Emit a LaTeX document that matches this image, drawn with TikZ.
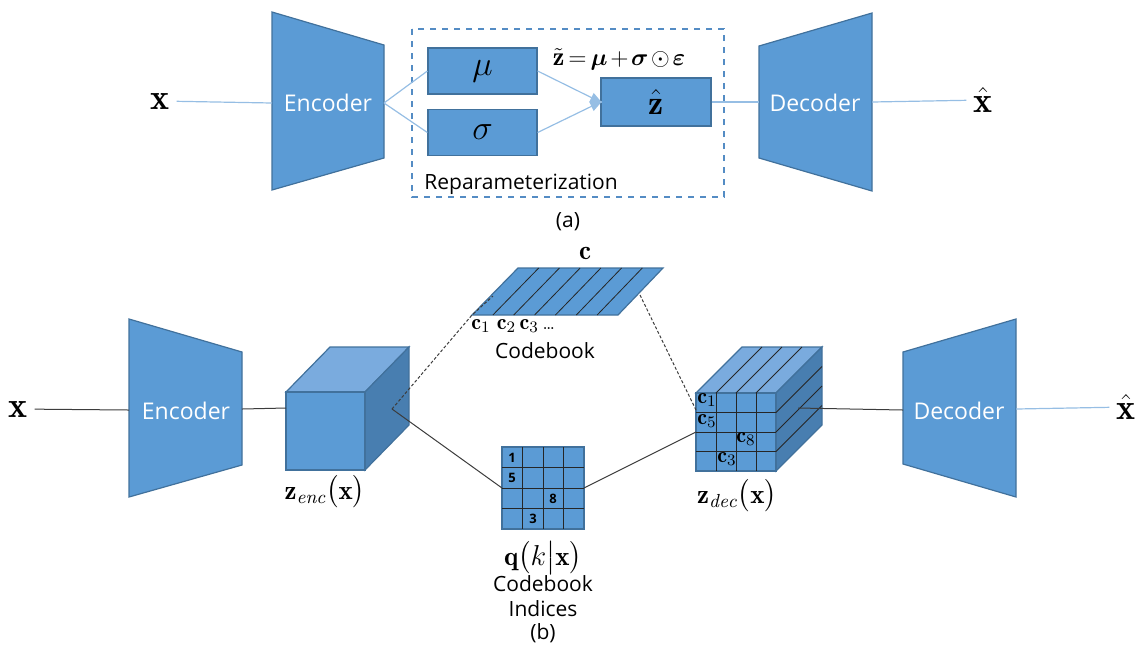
\documentclass[tikz,border=0pt]{standalone}
\usepackage{amsmath}
\usepackage{amssymb}
\usepackage{bm}
\usepackage{fontspec}
\setsansfont{Open Sans}
\usetikzlibrary{arrows.meta,calc}
\definecolor{blu}{RGB}{91,155,213}
\definecolor{bluedge}{RGB}{65,113,156}
\definecolor{bludash}{RGB}{84,140,196}
\definecolor{blutop}{RGB}{122,171,222}
\definecolor{bluside}{RGB}{72,126,176}
\definecolor{bluline}{RGB}{150,190,228}
\definecolor{darkline}{RGB}{60,60,60}

\tikzset{
  blk/.style={fill=blu,draw=bluedge,line width=0.6pt},
  boxn/.style={blk,inner sep=0pt,minimum width=54.5pt,minimum height=23pt},
  whitetxt/.style={font=\sffamily\fontsize{11.5}{13}\selectfont,text=white},
  txt/.style={font=\sffamily\fontsize{10.5}{12.5}\selectfont},
  bigmath/.style={font=\fontsize{18}{20}\selectfont},
  midmath/.style={font=\fontsize{13.5}{15}\selectfont},
  cmath/.style={font=\fontsize{11}{12}\selectfont,inner sep=0pt},
  num/.style={font=\sffamily\bfseries\fontsize{6.5}{7}\selectfont,inner sep=0pt},
  lineA/.style={draw=bluline,line width=0.6pt},
  lineB/.style={draw=darkline,line width=0.5pt},
  dotl/.style={lineB,dash pattern=on 1.5pt off 1pt},
  gridl/.style={draw=black!85,line width=0.4pt},
}

\begin{document}
\begin{tikzpicture}[x=0.5pt,y=-0.5pt]
	\useasboundingbox (0,0) rectangle (1140,650);

	%% (a) variational autoencoder
	\draw [dashed, draw=bludash, line width=0.7pt] (412,29) rectangle (724,197);
	\draw [blk] (272,12) -- (384,45) -- (384,158) -- (272,190) -- cycle;
	\draw [blk] (759,46) -- (872,13) -- (872,191) -- (759,158) -- cycle;
	\node [whitetxt] (enca) at (328,103) {Encoder};
	\node [whitetxt] (deca) at (815,103) {Decoder};
	\coordinate (encaW) at (272,103);
	\coordinate (encaE) at (384,103);
	\coordinate (decaW) at (759,102);
	\coordinate (decaE) at (872,102);

	\node [boxn] (mu) at (482.5,71) {\fontsize{16}{18}\selectfont$\mu$};
	\node [boxn] (sig) at (482.5,132.5) {\fontsize{16}{18}\selectfont$\sigma$};
	\node [boxn,minimum width=55pt,minimum height=24pt] (zh) at (656,102) {\fontsize{17}{19}\selectfont$\hat{\mathbf{z}}$};
	\node [font=\fontsize{13}{15}\selectfont,inner sep=1pt] (eq) at (619,59) {$\medmuskip=2mu\thickmuskip=3mu\tilde{\mathbf{z}}=\bm{\mu}+\bm{\sigma}\odot\bm{\varepsilon}$};
	\node [txt,anchor=west,inner sep=0pt] (rep) at (424,184) {Reparameterization};

	\node [bigmath] (xa) at (160,101) {$\mathbf{x}$};
	\node [bigmath] (xha) at (983,100) {$\hat{\mathbf{x}}$};

	\draw [lineA] (xa) -- (encaW);
	\draw [lineA] (encaE) -- (mu.west);
	\draw [lineA] (encaE) -- (sig.west);
	\draw [lineA,-{Triangle[length=6pt,width=5pt]},shorten >=-1pt] (mu.east) -- (zh.west);
	\draw [lineA,-{Triangle[length=6pt,width=5pt]},shorten >=-1pt] (sig.east) -- (zh.west);
	\draw [lineA] (zh.east) -- (decaW);
	\draw [lineA] (decaE) -- (xha);
	\node [txt] (capa) at (568,222) {(a)};

	%% (b) vector quantised autoencoder
	\draw [blk] (129,319) -- (242,352) -- (242,465) -- (129,497) -- cycle;
	\draw [blk] (903,352) -- (1016,319) -- (1016,497) -- (903,464) -- cycle;
	\node [whitetxt] (encb) at (186,411) {Encoder};
	\node [whitetxt] (decb) at (959,411) {Decoder};
	\coordinate (encbW) at (129,410);
	\coordinate (encbE) at (242,409);
	\coordinate (decbW) at (903,410);
	\coordinate (decbE) at (1016,409);

	% encoder output cube
	\draw [blk,fill=blutop] (286,392) -- (330,347) -- (409,347) -- (365,392) -- cycle;
	\draw [blk,fill=bluside] (365,392) -- (409,347) -- (409,425) -- (365,470) -- cycle;
	\draw [blk] (286,392) rectangle (365,470);
	\coordinate (zencW) at (286,408);
	\coordinate (zencS) at (392,409);
	\node [midmath] (zenc) at (325,492) {$\mathbf{z}_{\mathit{enc}}\big(\mathbf{x}\big)$};

	% codebook
	\draw [blk] (472,315) -- (618,315) -- (663,268) -- (518,268) -- cycle;
	\foreach \i in {1,...,6}
		\draw [gridl] ($(472,315)!\i/7!(618,315)$) -- ($(518,268)!\i/7!(663,268)$);
	\coordinate (cbSW) at (472,315);
	\coordinate (cbIn) at (493,296);
	\coordinate (cbE) at (640,295);
	\node [midmath] (cvec) at (585,253) {$\mathbf{c}$};
	\node [cmath,anchor=west] (cseq) at (471,326) {$\mathbf{c}_1\;\mathbf{c}_2\,\mathbf{c}_3$\,{\fontsize{9}{10}\selectfont\ldots}};
	\node [txt] (cb) at (545,351) {Codebook};

	% index grid
	\draw [blk] (502,447) rectangle (584,529);
	\foreach \i in {1,2,3} {
		\draw [gridl] (502+20.5*\i,447) -- (502+20.5*\i,529);
		\draw [gridl] (502,447+20.5*\i) -- (584,447+20.5*\i);
	}
	\node [num] (n1) at (512,458) {1};
	\node [num] (n5) at (512,478) {5};
	\node [num] (n8) at (553,499) {8};
	\node [num] (n3) at (533,519) {3};
	\coordinate (qW) at (502,488);
	\coordinate (qE) at (584,488);
	\node [midmath,inner sep=0pt] (qlab) at (543,558) {$\mathbf{q}\big(k\big|\mathbf{x}\big)$};
	\node [txt,align=center] (cbi) at (543,596) {Codebook\\Indices};

	% decoder input cube
	\draw [blk,fill=blutop] (696,393) -- (742,347) -- (822,347) -- (776,393) -- cycle;
	\draw [blk,fill=bluside] (776,393) -- (822,347) -- (822,425) -- (776,471) -- cycle;
	\draw [blk] (696,393) rectangle (776,471);
	\foreach \i in {1,2,3} {
		\draw [gridl] (696+20*\i,393) -- (696+20*\i,471);
		\draw [gridl] (696+20*\i,393) -- (742+20*\i,347);
		\draw [gridl] (696,393+19.5*\i) -- (776,393+19.5*\i);
		\draw [gridl] (776,393+19.5*\i) -- (822,347+19.5*\i);
	}
	\node [cmath] (dc1) at (707,400) {$\mathbf{c}_1$};
	\node [cmath] (dc5) at (707,421) {$\mathbf{c}_5$};
	\node [cmath] (dc8) at (746,439) {$\mathbf{c}_8$};
	\node [cmath] (dc3) at (727,459) {$\mathbf{c}_3$};
	\coordinate (zdecW1) at (696,410);
	\coordinate (zdecW2) at (696,432);
	\coordinate (zdecS) at (798,408);
	\node [midmath] (zdec) at (737,496) {$\mathbf{z}_{\mathit{dec}}\big(\mathbf{x}\big)$};

	\node [bigmath] (xb) at (18,409) {$\mathbf{x}$};
	\node [bigmath] (xhb) at (1126,407) {$\hat{\mathbf{x}}$};

	\draw [lineB] (xb) -- (encbW);
	\draw [lineB] (encbE) -- (zencW);
	\draw [dotl] (zencS) -- (cbSW) -- (cbIn);
	\draw [lineB] (zencS) -- (qW);
	\draw [lineB] (qE) -- (zdecW2);
	\draw [dotl] (cbE) -- (zdecW1);
	\draw [lineB] (zdecS) -- (decbW);
	\draw [lineA] (decbE) -- (xhb);
	\node [txt] (capb) at (543,633) {(b)};
\end{tikzpicture}
\end{document}
